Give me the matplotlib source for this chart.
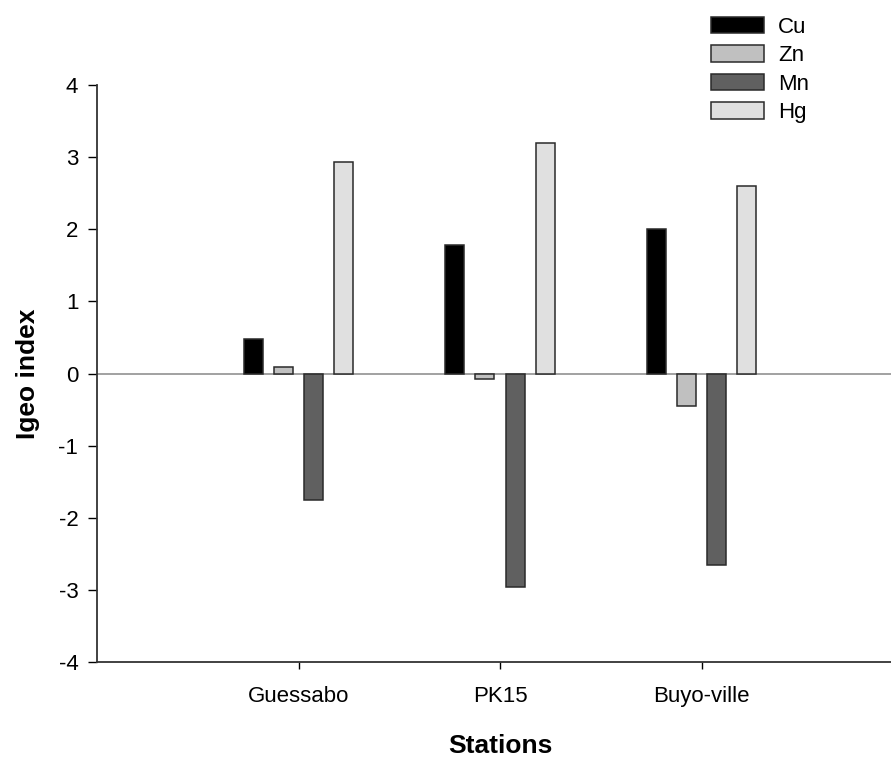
import numpy as np
import matplotlib
matplotlib.use("Agg")
import matplotlib.pyplot as plt
from matplotlib.patches import Patch

plt.rcParams["font.family"] = ["Liberation Sans", "DejaVu Sans"]
plt.rcParams["axes.unicode_minus"] = False

stations = ["Guessabo", "PK15", "Buyo-ville"]
metals = ["Cu", "Zn", "Mn", "Hg"]
cu = [0.48, 1.78, 2.0]
zn = [0.09, -0.08, -0.45]
mn = [-1.75, -2.96, -2.65]
hg = [2.93, 3.2, 2.6]
colors = ["#000000", "#c0c0c0", "#606060", "#e0e0e0"]

fig = plt.figure(figsize=(8.91, 7.58), dpi=100)
W, H = 891, 758
# axes spans x=97..903 px, y=85..662 px (right edge runs past the figure)
ax = fig.add_axes([97 / W, 1 - 662 / H, 806 / W, 577 / H])

x = np.arange(len(stations))
offsets = [-0.225, -0.075, 0.075, 0.225]
width = 0.095
for vals, off, c in zip([cu, zn, mn, hg], offsets, colors):
    ax.bar(x + off, vals, width, color=c, edgecolor="#2a2a2a", linewidth=1.1, zorder=3)

ax.axhline(0, color="#9a9a9a", linewidth=1.3, zorder=2)

ax.set_xlim(-1.0, 3.0)
ax.set_ylim(-4, 4)
ax.set_xticks(x)
ax.set_xticklabels(stations, fontsize=16)
ax.set_yticks(range(-4, 5))
ax.tick_params(axis="y", labelsize=16, length=6.5, width=1, direction="out", pad=7)
ax.tick_params(axis="x", length=5, width=1, direction="out", pad=12)
for s in ["top", "right"]:
    ax.spines[s].set_visible(False)
for s in ["left", "bottom"]:
    ax.spines[s].set_linewidth(1.3)
    ax.spines[s].set_color("#333333")

ax.set_ylabel("Igeo index", fontsize=19, fontweight="bold", labelpad=13)
ax.set_xlabel("Stations", fontsize=19, fontweight="bold", labelpad=20)

handles = [Patch(facecolor=c, edgecolor="#2a2a2a", linewidth=1.1, label=m)
           for c, m in zip(colors, metals)]
fig.legend(handles=handles, loc="upper left", bbox_to_anchor=(702 / W, 1 - 8 / H),
           borderaxespad=0, frameon=False, fontsize=16, handlelength=2.4,
           handleheight=0.77, labelspacing=0.33, handletextpad=0.63)

fig.savefig("out.png", dpi=100)
